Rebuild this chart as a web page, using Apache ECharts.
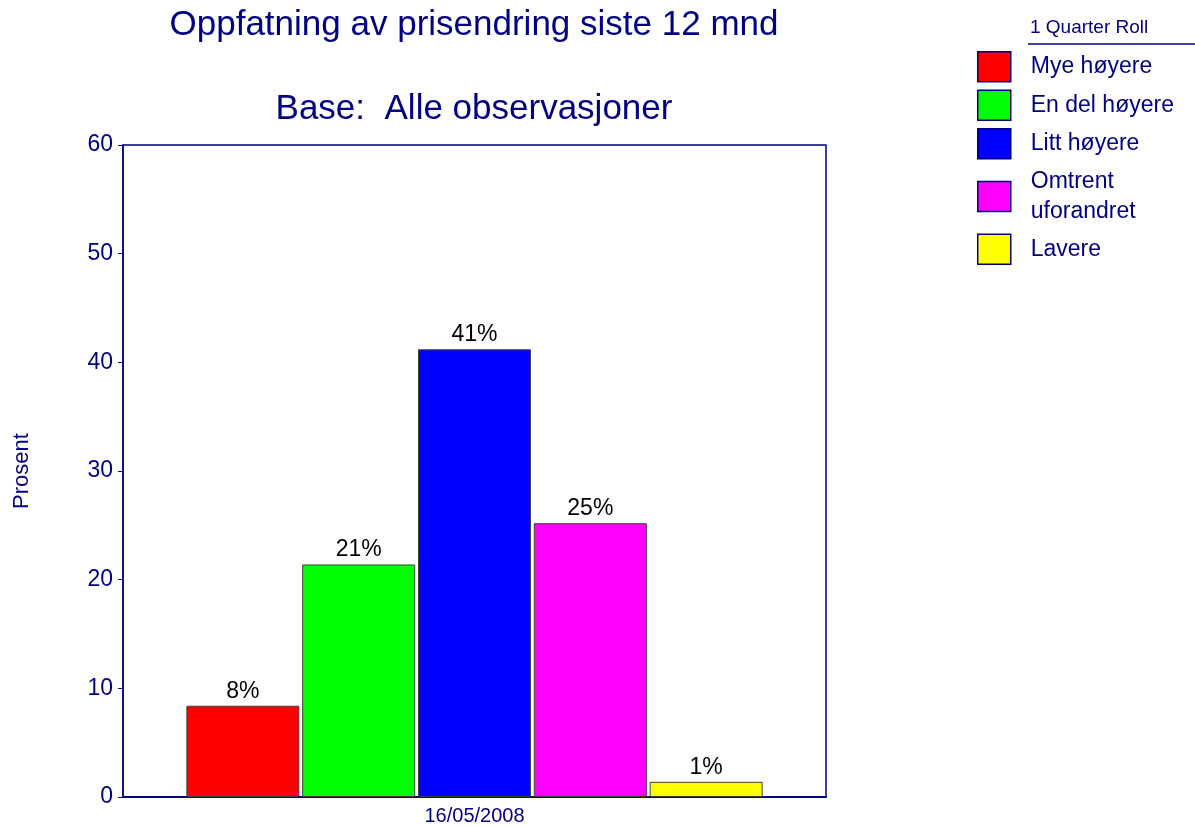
<!DOCTYPE html>
<head>
    <meta charset="utf-8">
    <title>ECharts</title>
    <script type="text/javascript" src="https://cdn.jsdelivr.net/npm/echarts@6/dist/echarts.min.js"></script>
</head>
<body style="margin:0">
<div id="main" style="width:1195px;height:826px"></div>
<script type="text/javascript">
    // data
    var categories = ['16/05/2008'];
    var seriesNames = ['Mye høyere', 'En del høyere', 'Litt høyere', 'Omtrent\nuforandret', 'Lavere'];
    var seriesValues = [8.4, 21.4, 41.2, 25.2, 1.4];
    var seriesColors = ['#ff0000', '#00ff00', '#0000ff', '#ff00ff', '#ffff00'];
    var yTicks = [0, 10, 20, 30, 40, 50, 60];

    var navy = '#000080';
    var font = '"Liberation Sans", Arial, sans-serif';

    var myChart = echarts.init(document.getElementById('main'));

    var series = [];
    for (var i = 0; i < seriesNames.length; i++) {
        series.push({
            name: seriesNames[i],
            type: 'bar',
            barWidth: 113,
            barGap: '2.5%',
            data: [seriesValues[i]],
            itemStyle: { color: seriesColors[i], borderColor: '#404040', borderWidth: 1 },
            label: {
                show: true,
                position: 'top',
                distance: 3,
                color: '#000',
                fontFamily: font,
                fontSize: 23,
                formatter: function (p) { return Math.round(p.value) + '%'; }
            }
        });
    }

    var option = {
        animation: false,
        backgroundColor: '#fff',
        title: [
            {
                text: 'Oppfatning av prisendring siste 12 mnd',
                left: 474, top: 8, padding: 0, textAlign: 'center',
                textStyle: { color: navy, fontFamily: font, fontSize: 35, fontWeight: 'normal' }
            },
            {
                text: 'Base:  Alle observasjoner',
                left: 474, top: 92, padding: 0, textAlign: 'center',
                textStyle: { color: navy, fontFamily: font, fontSize: 35, fontWeight: 'normal' }
            },
            {
                text: '1 Quarter Roll',
                left: 1030, top: 18, padding: 0,
                textStyle: { color: navy, fontFamily: font, fontSize: 19, fontWeight: 'normal' }
            }
        ],
        graphic: [
            { type: 'line', shape: { x1: 1028, y1: 44, x2: 1195, y2: 44 }, style: { stroke: navy, lineWidth: 1.5 } }
        ],
        legend: {
            orient: 'vertical',
            left: 977, top: 51, padding: 0,
            itemWidth: 33, itemHeight: 30, itemGap: 7,
            icon: 'rect',
            itemStyle: { borderColor: navy, borderWidth: 1.5 },
            textStyle: { color: navy, fontFamily: font, fontSize: 23, lineHeight: 30, padding: [0, 0, 0, 15] },
            data: seriesNames
        },
        grid: {
            left: 123, right: 369, top: 145, bottom: 28,
            show: true, borderColor: navy, borderWidth: 1.5, backgroundColor: 'transparent'
        },
        xAxis: {
            type: 'category',
            data: categories,
            axisLine: { lineStyle: { color: navy, width: 2 } },
            axisTick: { alignWithLabel: true, length: 5, lineStyle: { color: navy } },
            axisLabel: { color: navy, fontFamily: font, fontSize: 20, margin: 9 }
        },
        yAxis: {
            type: 'value',
            min: yTicks[0], max: yTicks[yTicks.length - 1], interval: 10,
            name: 'Prosent',
            nameLocation: 'middle',
            nameGap: 90,
            nameRotate: 90,
            nameTextStyle: { color: navy, fontFamily: font, fontSize: 22 },
            splitLine: { show: false },
            axisLine: { show: true, lineStyle: { color: navy, width: 1.5 } },
            axisTick: { show: true, length: 5, lineStyle: { color: navy } },
            axisLabel: { color: navy, fontFamily: font, fontSize: 23, margin: 10 }
        },
        series: series
    };

    myChart.setOption(option);
</script>
</body>
